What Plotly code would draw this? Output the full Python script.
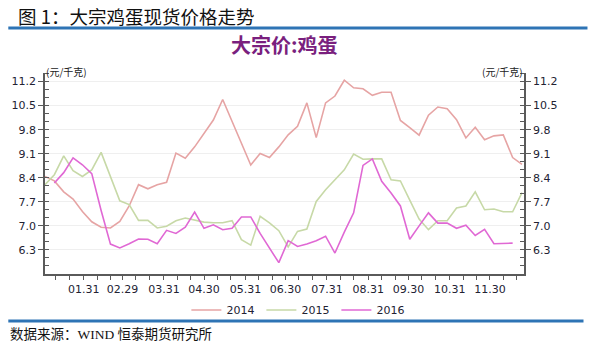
import pandas as pd
import plotly.graph_objects as go

# Weekly observations, plotted on a common calendar year
dates = pd.date_range("2016-01-02", periods=52, freq="7D")

price_2014 = [8.44, 8.31, 7.99, 7.78, 7.42, 7.12, 6.96, 6.94, 7.13, 7.58,
              8.20, 8.08, 8.20, 8.27, 9.12, 8.97, 9.30, 9.70, 10.08, 10.68,
              10.05, 9.40, 8.77, 9.11, 8.99, 9.30, 9.65, 9.90, 10.58, 9.57,
              10.58, 10.78, 11.24, 11.02, 10.99, 10.80, 10.89, 10.89, 10.07, 9.86,
              9.64, 10.22, 10.46, 10.41, 10.09, 9.56, 9.87, 9.51, 9.62, 9.65,
              8.99, 8.79]

price_2015 = [8.20, 8.49, 9.04, 8.61, 8.44, 8.63, 9.14, 8.44, 7.73, 7.62,
              7.16, 7.16, 6.94, 6.99, 7.15, 7.23, 7.16, 7.11, 7.09, 7.09,
              7.15, 6.60, 6.44, 7.28, 7.09, 6.86, 6.39, 6.84, 6.91, 7.71,
              8.05, 8.34, 8.63, 9.09, 8.94, 8.95, 8.95, 8.34, 8.31, 7.75,
              7.20, 6.89, 7.15, 7.15, 7.52, 7.58, 7.99, 7.47, 7.49, 7.41,
              7.41, 7.97]

price_2016 = [None, 8.25, 8.55, 8.98, 8.78, 8.52, 7.45, 6.47, 6.36, 6.48,
              6.62, 6.61, 6.48, 6.87, 6.78, 6.96, 7.40, 6.93, 7.03, 6.89,
              6.93, 7.26, 7.26, 6.78, 6.36, 5.93, 6.57, 6.40, 6.47, 6.57,
              6.70, 6.21, 6.82, 7.38, 8.76, 8.95, 8.30, 7.96, 7.58, 6.61,
              7.00, 7.38, 7.08, 7.08, 6.93, 7.02, 6.72, 6.90, 6.48, 6.48,
              6.50, None]

series_names = ["2014", "2015", "2016"]
series_colors = ["#E6A4A4", "#C7D9A7", "#E068D4"]

tick_dates = ["2016-01-31", "2016-02-29", "2016-03-31", "2016-04-30", "2016-05-31",
              "2016-06-30", "2016-07-31", "2016-08-31", "2016-09-30", "2016-10-31",
              "2016-11-30"]
tick_text = ["01.31", "02.29", "03.31", "04.30", "05.31", "06.30",
             "07.31", "08.31", "09.30", "10.31", "11.30"]
minor_dates = [f"2016-{m:02d}-{d}" for m in range(1, 13) for d in (10, 20)]

y_ticks = [6.3, 7.0, 7.7, 8.4, 9.1, 9.8, 10.5, 11.2]
y_range = [5.6, 11.45]

W, H = 592, 349
ML, MR, MT, MB = 41, 68, 73, 75
PW, PH = W - ML - MR, H - MT - MB


def px(x):
    return (x - ML) / PW


def py(y):
    return (H - MB - y) / PH


fig = go.Figure()
for name, vals, col in zip(series_names, [price_2014, price_2015, price_2016], series_colors):
    fig.add_trace(go.Scatter(x=dates, y=vals, name=name, mode="lines",
                             line=dict(color=col, width=1.6), connectgaps=False))

tick_font = dict(family="DejaVu Sans", size=11, color="#222233")
axis_col = "#5a5a5a"

fig.update_layout(
    width=W, height=H,
    margin=dict(l=ML, r=MR, t=MT, b=MB),
    paper_bgcolor="white", plot_bgcolor="white",
    showlegend=True,
    legend=dict(orientation="h", x=px(297), xanchor="center", y=py(310), yanchor="middle",
                font=dict(family="DejaVu Sans", size=11, color="#222233"),
                itemwidth=30, entrywidth=30, tracegroupgap=0, bgcolor="rgba(0,0,0,0)"),
    xaxis=dict(type="date", range=["2016-01-02", "2016-12-25 12:00"],
               tickmode="array", tickvals=tick_dates, ticktext=tick_text,
               ticks="outside", ticklen=4, tickcolor=axis_col, tickwidth=1,
               showline=True, linecolor=axis_col, linewidth=1.5,
               showgrid=False, zeroline=False, tickfont=tick_font,
               minor=dict(tickmode="array", tickvals=minor_dates, ticks="outside",
                          ticklen=4, tickcolor=axis_col, showgrid=False)),
    yaxis=dict(range=y_range, tickmode="array", tickvals=y_ticks,
               ticktext=[f"{v:.1f}" for v in y_ticks],
               ticks="outside", ticklen=5, tickcolor=axis_col,
               showline=True, linecolor=axis_col, linewidth=1.5,
               showgrid=True, gridcolor="#efefef", gridwidth=1, zeroline=False,
               tickfont=tick_font,
               minor=dict(dtick=0.7 / 3, tick0=6.3, ticks="inside", ticklen=4,
                          tickcolor=axis_col, showgrid=False)),
    yaxis2=dict(range=y_range, overlaying="y", side="right", matches="y",
                tickmode="array", tickvals=y_ticks,
                ticktext=[f"{v:.1f}" for v in y_ticks],
                ticks="outside", ticklen=5, tickcolor=axis_col,
                showline=True, linecolor=axis_col, linewidth=1.5,
                showgrid=False, zeroline=False, tickfont=tick_font,
                minor=dict(dtick=0.7 / 3, tick0=6.3, ticks="inside", ticklen=4,
                           tickcolor=axis_col, showgrid=False)),
)

# right-hand axis mirrors the left scale
fig.add_trace(go.Scatter(x=[dates[0]], y=[None], yaxis="y2", showlegend=False,
                         hoverinfo="skip", mode="lines"))

cjk = "Noto Sans CJK SC"
fig.add_annotation(text="图 1：大宗鸡蛋现货价格走势", xref="paper", yref="paper",
                   x=px(12), y=py(16), xanchor="left", yanchor="middle", showarrow=False,
                   font=dict(family=cjk, size=18.5, color="#111111"))
fig.add_annotation(text="大宗价:鸡蛋", xref="paper", yref="paper",
                   x=px(283), y=py(44), xanchor="center", yanchor="middle", showarrow=False,
                   font=dict(family=cjk, size=20, color="#7A1F7E", weight="bold"))
fig.add_annotation(text="(元/千克)", xref="paper", yref="paper",
                   x=px(40), y=py(71), xanchor="left", yanchor="middle", showarrow=False,
                   font=dict(family=cjk, size=10, color="#222222"))
fig.add_annotation(text="(元/千克)", xref="paper", yref="paper",
                   x=px(525), y=py(71), xanchor="right", yanchor="middle", showarrow=False,
                   font=dict(family=cjk, size=10, color="#222222"))
fig.add_annotation(text="数据来源：WIND 恒泰期货研究所", xref="paper", yref="paper",
                   x=px(4), y=py(334), xanchor="left", yanchor="middle", showarrow=False,
                   font=dict(family="Liberation Serif, " + cjk, size=13.5, color="#111111"))

fig.add_shape(type="line", xref="paper", yref="paper", x0=px(4), x1=px(588),
              y0=py(28), y1=py(28), line=dict(color="#2E74B5", width=3))
fig.add_shape(type="line", xref="paper", yref="paper", x0=px(4), x1=px(584),
              y0=py(321), y1=py(321), line=dict(color="#2E74B5", width=3))

fig.write_html("out.html")
